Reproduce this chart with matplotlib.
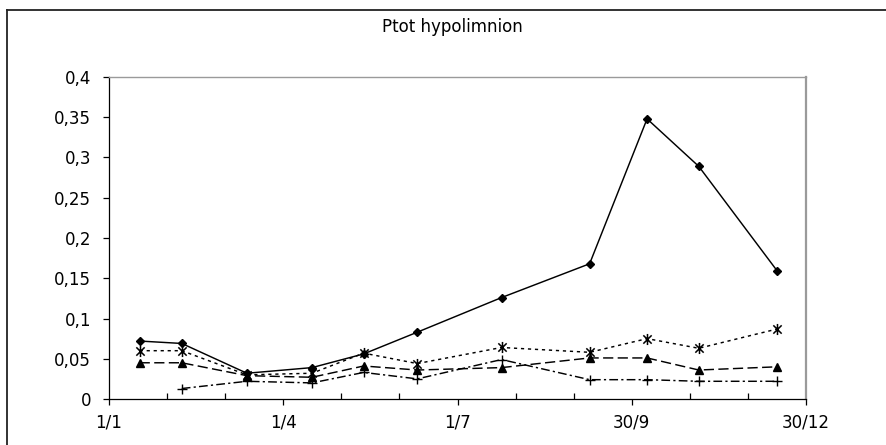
import numpy as np
import matplotlib
matplotlib.use("Agg")
import matplotlib.pyplot as plt
from matplotlib.path import Path
from matplotlib.lines import Line2D
from matplotlib.ticker import FixedLocator, FuncFormatter

plt.rcParams['font.family'] = ['DejaVu Sans']

# ---- data (day of year, leap year: 1/1 = 0) ----
days = [16, 38, 72, 106, 133, 161, 205, 251, 281, 308, 349]
series_diamond = [0.072, 0.069, 0.032, 0.039, 0.056, 0.083, 0.126, 0.168, 0.348, 0.289, 0.159]
series_asterisk = [0.060, 0.060, 0.030, 0.032, 0.057, 0.044, 0.064, 0.058, 0.075, 0.063, 0.087]
series_triangle = [0.045, 0.045, 0.029, 0.027, 0.041, 0.036, 0.039, 0.051, 0.051, 0.036, 0.040]
series_plus = [np.nan, 0.013, 0.022, 0.020, 0.033, 0.025, 0.049, 0.024, 0.024, 0.022, 0.022]

xtick_days = [0, 91, 182, 273, 364]
xtick_labels = ['1/1', '1/4', '1/7', '30/9', '30/12']
title = 'Ptot hypolimnion'

W, H = 887, 445
fig = plt.figure(figsize=(W / 100, H / 100), dpi=100)
left, right, top, bottom = 109, 806, 77, 399
ax = fig.add_axes([left / W, 1 - bottom / H, (right - left) / W, (bottom - top) / H])

# asterisk marker: x plus vertical line
ast = Path([(0, -1), (0, 1), (-0.75, -0.75), (0.75, 0.75), (-0.75, 0.75), (0.75, -0.75)],
           [Path.MOVETO, Path.LINETO, Path.MOVETO, Path.LINETO, Path.MOVETO, Path.LINETO])

lw = 1.05
ax.plot(days, series_diamond, color='black', lw=lw, linestyle='-',
        marker='D', ms=3.8, mfc='black', mec='black', zorder=5)
ax.plot(days, series_asterisk, color='black', lw=lw, linestyle=(0, (2.2, 2.6)),
        marker=ast, ms=8, mec='black', mew=1.1, zorder=4)
ax.plot(days, series_triangle, color='black', lw=lw, linestyle=(0, (7, 3)),
        marker='^', ms=5.2, mfc='black', mec='black', zorder=4)
ax.plot(days, series_plus, color='black', lw=lw, linestyle=(0, (6, 2.2, 1.5, 2.2)),
        marker='+', ms=7.5, mec='black', mew=1.0, zorder=4)

ax.set_xlim(0, 364)
ax.set_ylim(0, 0.4)

ax.xaxis.set_major_locator(FixedLocator(xtick_days))
ax.set_xticklabels(xtick_labels)
ax.xaxis.set_minor_locator(FixedLocator([d for d in np.arange(0, 364.1, 91 / 3)
                                         if min(abs(d - m) for m in xtick_days) > 1]))
ax.yaxis.set_major_locator(FixedLocator(np.arange(0, 0.401, 0.05)))

def yfmt(v, pos):
    s = ('%.2f' % v).rstrip('0').rstrip('.')
    return s.replace('.', ',')
ax.yaxis.set_major_formatter(FuncFormatter(yfmt))

fs = 12
ax.tick_params(axis='x', which='major', direction='out', length=4, width=0.9,
               labelsize=fs, pad=6.5, colors='black')
ax.tick_params(axis='x', which='minor', direction='in', length=4, width=0.9, colors='black')
ax.tick_params(axis='y', which='major', direction='out', length=4.5, width=0.9,
               labelsize=fs, pad=8.5, colors='black')

for s in ['left', 'bottom']:
    ax.spines[s].set_color('black')
    ax.spines[s].set_linewidth(0.9)
ax.spines['top'].set_color('#9a9a9a')
ax.spines['top'].set_linewidth(1.0)
ax.spines['right'].set_color('#9a9a9a')
ax.spines['right'].set_linewidth(1.6)

fig.text(452 / W, 1 - 27 / H, title, ha='center', va='center', fontsize=fs)

# chart-area frame (top and left visible)
fig.add_artist(Line2D([7 / W, 1.0], [1 - 10 / H, 1 - 10 / H], color='#222222', lw=1.3,
                      transform=fig.transFigure))
fig.add_artist(Line2D([7 / W, 7 / W], [0, 1 - 10 / H], color='#222222', lw=1.3,
                      transform=fig.transFigure))

fig.savefig('out.png', dpi=100)
